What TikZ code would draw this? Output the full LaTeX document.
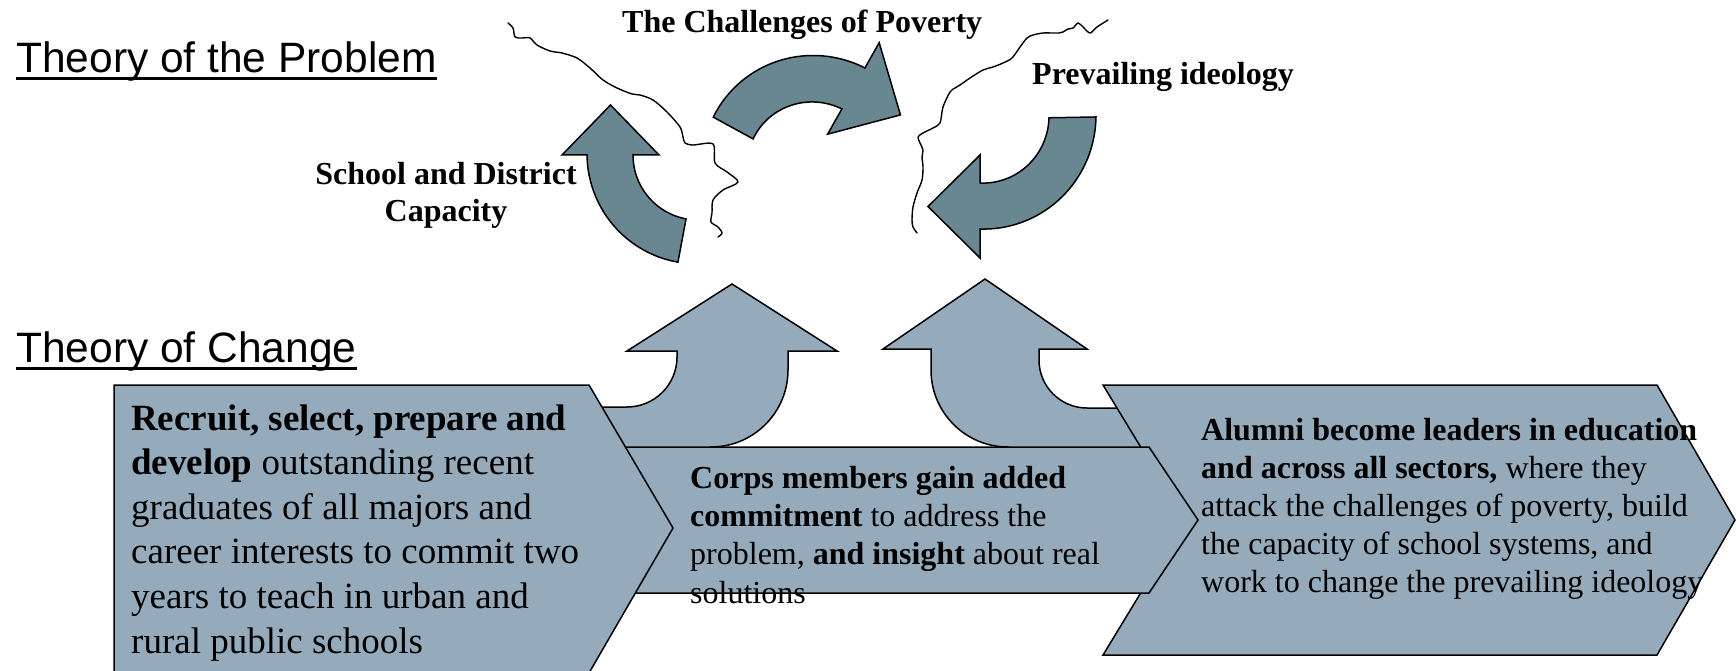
\documentclass[tikz,border=0pt]{standalone}
\usepackage{fontspec}
\setmainfont{Liberation Serif}
\newfontfamily\headfont{Liberation Sans}
\usetikzlibrary{calc}

\definecolor{slatelight}{RGB}{149,171,187}
\definecolor{slatedark}{RGB}{104,135,145}

\tikzset{
  blockshape/.style={fill=slatelight, draw=black, line width=1.5pt, line join=miter},
  turnarrow/.style={fill=slatedark, draw=black, line width=1.5pt, line join=miter},
  coastline/.style={draw=black, line width=1.4pt, line cap=round, line join=round},
  heading/.style={font=\headfont\fontsize{42.5}{50}\selectfont, anchor=base west, inner sep=0pt},
  headrule/.style={draw=black, line width=3pt},
  toplabel/.style={font=\bfseries\fontsize{32}{37.5}\selectfont, inner sep=0pt},
  % multi-line texts are anchored at the baseline of their last line
  bodytext/.style={align=left, anchor=base west, inner sep=0pt},
}

\begin{document}
% image-style coordinates: 1 unit = 1pt, y grows downwards
\begin{tikzpicture}[x=1pt, y=-1pt]
\useasboundingbox (0,0) rectangle (1736,671);

% ---------- up arrows rising out of the middle stage ----------
\filldraw[blockshape] (590,450) -- (590,407) -- (627,407)
  .. controls (654.6,407) and (677,384.6) .. (677,357) -- (677,351)
  -- (627,351) -- (732,284) -- (837,351) -- (788,351) -- (788,370)
  .. controls (788,412.5) and (753.5,447) .. (711,447) -- (711,450) -- cycle;

\filldraw[blockshape] (1160,450) -- (1160,408) -- (1087,408)
  .. controls (1060.5,408) and (1039,386.5) .. (1039,360) -- (1039,349)
  -- (1087,349) -- (985,279) -- (883,349) -- (931,349) -- (931,370)
  .. controls (931,412.5) and (965.5,447) .. (1008,447) -- (1008,450) -- cycle;

% ---------- the three stages ----------
\filldraw[blockshape] (1103,385) -- (1657,385) -- (1735,520) -- (1657,655)
  -- (1103,655) -- (1185,520) -- cycle;
\filldraw[blockshape] (600,447) -- (1149,447) -- (1198,520) -- (1149,593)
  -- (600,593) -- cycle;
\filldraw[blockshape] (114,385) -- (589,385) -- (673,528) -- (589,673)
  -- (114,673) -- cycle;

% ---------- cycle of curved arrows ----------
% over the top, pointing right
\filldraw[turnarrow]
  plot[domain=208.7:299.4, samples=40]
    ({808+(108+8*(\x-208.7)/90.7)*cos(\x)}, {169+(108+8*(\x-208.7)/90.7)*sin(\x)})
  -- ($(808,169)+(299.4:145)$)
  -- ($(808,169)+(299.4:92.5)+(29.4:54)$)
  -- ($(808,169)+(299.4:40)$)
  -- plot[domain=299.4:208.7, samples=40]
    ({808+(62.6+6.4*(\x-208.7)/90.7)*cos(\x)}, {169+(62.6+6.4*(\x-208.7)/90.7)*sin(\x)})
  -- cycle;

% right side, turning down and to the left
\filldraw[turnarrow]
  plot[domain=-1:90, samples=40]
    ({980+(116-6*(\x+1)/91)*cos(\x)}, {119+(116-6*(\x+1)/91)*sin(\x)})
  -- ($(980,119)+(90:139)$)
  -- ($(980,119)+(90:87.5)+(180:52)$)
  -- ($(980,119)+(90:36)$)
  -- plot[domain=90:-1, samples=40]
    ({980+(69-5*(\x+1)/91)*cos(\x)}, {119+(69-5*(\x+1)/91)*sin(\x)})
  -- cycle;

% left side, turning up
\filldraw[turnarrow]
  plot[domain=100.6:180, samples=40]
    ({698+(109+2*(\x-100.6)/79.4)*cos(\x)}, {155+(109+2*(\x-100.6)/79.4)*sin(\x)})
  -- ($(698,155)+(180:136)$)
  -- ($(698,155)+(180:87.5)+(270:50)$)
  -- ($(698,155)+(180:39)$)
  -- plot[domain=180:100.6, samples=40]
    ({698+65*cos(\x)}, {155+65*sin(\x)})
  -- cycle;

% ---------- freehand dividing lines ----------
\draw[coastline] plot[smooth, tension=0.5] coordinates {
  (508,23) (513,28) (515,37) (522,38) (530,38) (537,45) (550,51) (562,53)
  (577,58) (590,68) (603,80) (617,88) (632,94) (640,95) (653,100) (667,112)
  (680,127) (683,137) (685,143) (693,145) (713,144) (715,163) (727,172)
  (738,182) (723,190) (713,200) (712,213) (711,222) (718,227) (722,233) (718,237)};

\draw[coastline] plot[smooth, tension=0.5] coordinates {
  (1108,20) (1097,27) (1090,33) (1083,27) (1078,23) (1073,28) (1068,29)
  (1063,32) (1059,33) (1052,33) (1043,33) (1033,35) (1027,38) (1020,47)
  (1012,58) (1003,63) (993,67) (983,70) (970,78) (960,85) (955,88) (950,92)
  (943,107) (940,123) (933,128) (923,133) (918,137) (920,143) (923,150)
  (922,157) (923,167) (922,180) (917,193) (913,207) (912,220) (913,227) (917,233)};

% ---------- headings ----------
\node[heading] (probhead) at (16,73) {Theory of the Problem};
\draw[headrule] ($(probhead.base west)+(0,6)$) -- ($(probhead.base east)+(0,6)$);
\node[heading] (changehead) at (16,362) {Theory of Change};
\draw[headrule] ($(changehead.base west)+(0,6)$) -- ($(changehead.base east)+(0,6)$);

% ---------- labels of the problem cycle ----------
\node[toplabel, anchor=base west] (poverty) at (622,33) {The Challenges of Poverty};
\node[toplabel, anchor=base west] (ideology) at (1032,85) {Prevailing ideology};
\node[toplabel, align=center, anchor=base] (capacity) at (446,222) {School and District\\Capacity};

% ---------- stage texts ----------
\node[bodytext, font=\fontsize{37}{44.6}\selectfont] (recruit) at (131,653)
  {\textbf{Recruit, select, prepare and}\\
   \textbf{develop} outstanding recent\\
   graduates of all majors and\\
   career interests to commit two\\
   years to teach in urban and\\
   rural public schools};

\node[bodytext, font=\fontsize{32}{38.3}\selectfont] (corps) at (690,603)
  {\textbf{Corps members gain added}\\
   \textbf{commitment} to address the\\
   problem, \textbf{and insight} about real\\
   solutions};

\node[bodytext, font=\fontsize{32}{38}\selectfont] (alumni) at (1201,592)
  {\textbf{Alumni become leaders in education}\\
   \textbf{and across all sectors,} where they\\
   attack the challenges of poverty, build\\
   the capacity of school systems, and\\
   work to change the prevailing ideology};
\end{tikzpicture}
\end{document}
